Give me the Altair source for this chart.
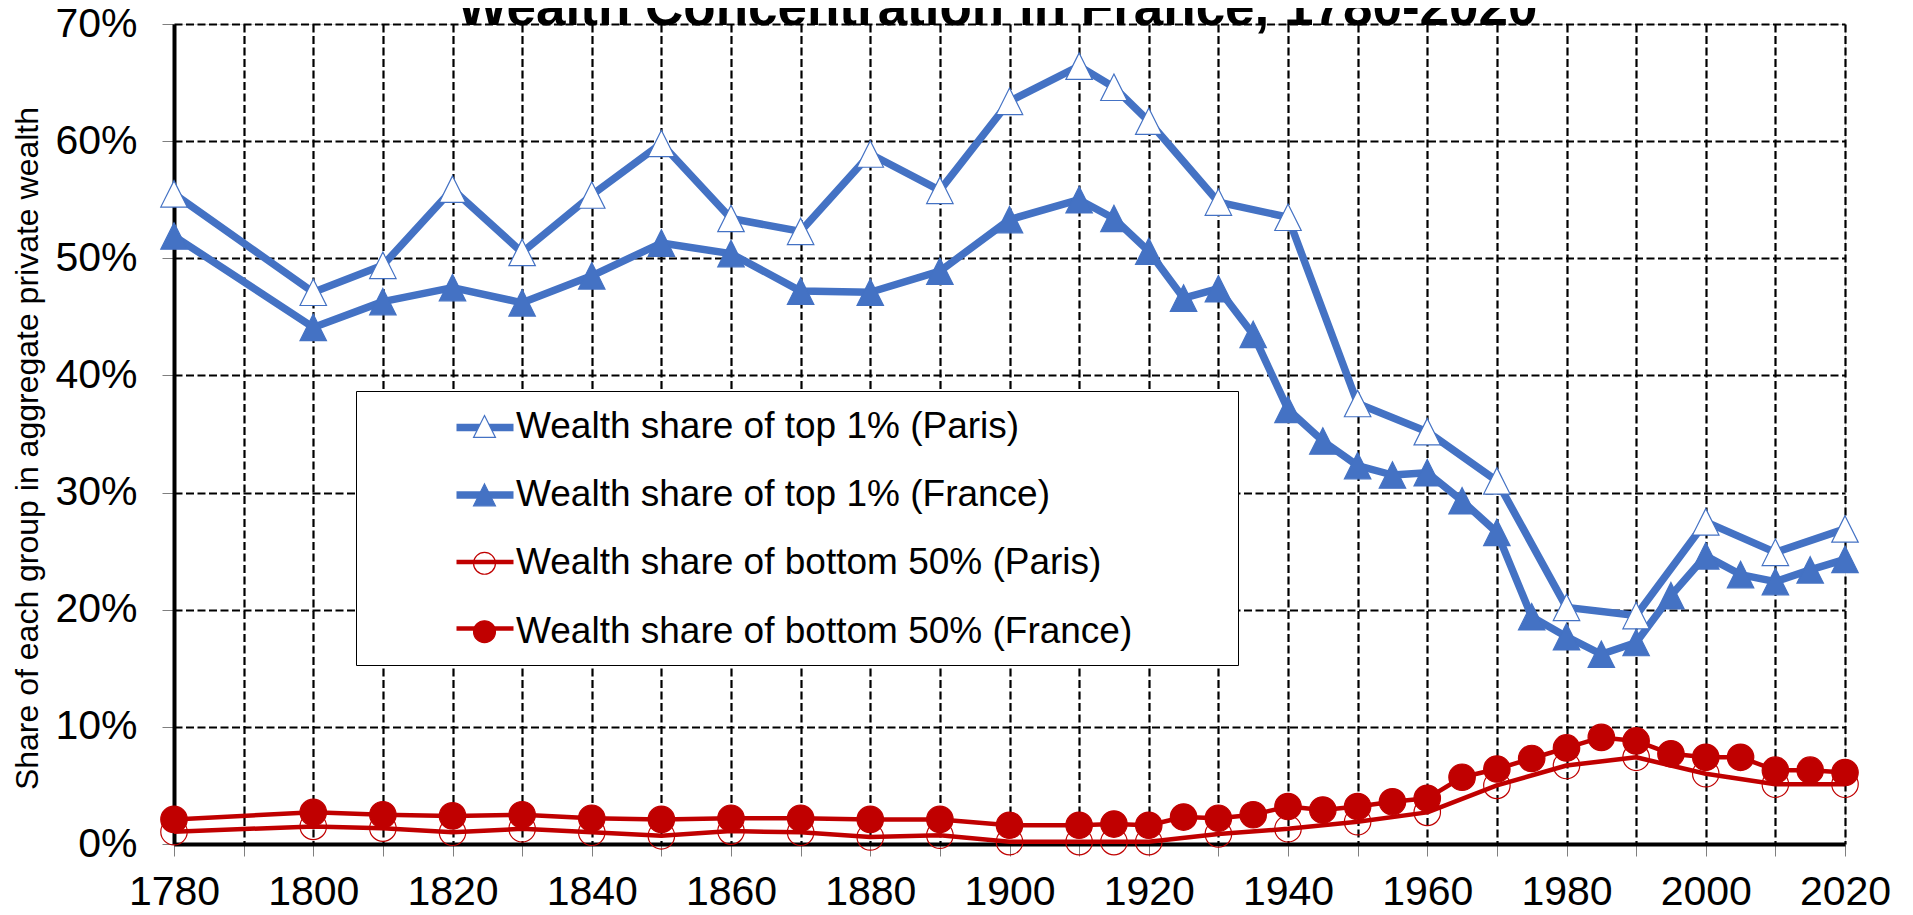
import altair as alt
import pandas as pd

FONT = "Liberation Sans, Arial, Helvetica, sans-serif"
BLUE = "#4472C4"
RED = "#C00000"

series_names = [
    "Wealth share of top 1% (Paris)",
    "Wealth share of top 1% (France)",
    "Wealth share of bottom 50% (Paris)",
    "Wealth share of bottom 50% (France)",
]

paris_years = [1780, 1800, 1810, 1820, 1830, 1840, 1850, 1860, 1870, 1880, 1890,
               1900, 1910, 1915, 1920, 1930, 1940, 1950, 1960, 1970, 1980, 1990,
               2000, 2010, 2020]
france_years = [1780, 1800, 1810, 1820, 1830, 1840, 1850, 1860, 1870, 1880, 1890,
                1900, 1910, 1915, 1920, 1925, 1930, 1935, 1940, 1945, 1950, 1955,
                1960, 1965, 1970, 1975, 1980, 1985, 1990, 1995, 2000, 2005, 2010,
                2015, 2020]

top1_paris = [55.5, 47.1, 49.4, 55.9, 50.5, 55.4, 59.8, 53.4, 52.3, 58.9, 55.8,
              63.4, 66.4, 64.6, 61.7, 54.8, 53.5, 37.6, 35.2, 31.0, 20.2, 19.5,
              27.5, 24.9, 26.9]
top1_france = [51.9, 44.1, 46.3, 47.5, 46.2, 48.5, 51.3, 50.4, 47.2, 47.1, 48.9,
               53.3, 55.0, 53.4, 50.6, 46.6, 47.4, 43.5, 37.1, 34.4, 32.3, 31.5,
               31.7, 29.3, 26.6, 19.4, 17.7, 16.2, 17.2, 21.2, 24.6, 23.0, 22.4,
               23.4, 24.3]
bottom50_paris = [1.05, 1.5, 1.35, 1.0, 1.3, 1.0, 0.7, 1.1, 1.0, 0.6, 0.75,
                  0.2, 0.2, 0.2, 0.2, 0.85, 1.3, 1.9, 2.7, 5.0, 6.7, 7.4,
                  6.0, 5.1, 5.1]
bottom50_france = [2.1, 2.7, 2.5, 2.4, 2.5, 2.2, 2.1, 2.2, 2.2, 2.1, 2.1,
                   1.6, 1.6, 1.7, 1.6, 2.3, 2.2, 2.5, 3.2, 2.9, 3.2, 3.6,
                   3.9, 5.7, 6.4, 7.3, 8.2, 9.1, 8.8, 7.7, 7.4, 7.4, 6.3,
                   6.3, 6.1]

x_ticks = list(range(1780, 2021, 10))
y_ticks = [0, 10, 20, 30, 40, 50, 60, 70]

# build long table
rows = []
for name, yrs, vals in [
    (series_names[0], paris_years, top1_paris),
    (series_names[1], france_years, top1_france),
    (series_names[2], paris_years, bottom50_paris),
    (series_names[3], france_years, bottom50_france),
]:
    for yr, v in zip(yrs, vals):
        rows.append({"year": yr, "value": v, "marker": name, "line_key": name + " "})
df = pd.DataFrame(rows)
line_keys = [n + " " for n in series_names]

TRI = "M0,-1L1,1L-1,1Z"
CIRC = "M1,0A1,1,0,1,1,-1,0A1,1,0,1,1,1,0Z"

x_enc = alt.X(
    "year:Q",
    scale=alt.Scale(domain=[1780, 2020], nice=False, zero=False),
    axis=alt.Axis(
        title=None, values=x_ticks, format="d",
        labelExpr="datum.value % 20 == 0 ? datum.label : ''",
        labelFontSize=41, labelFont=FONT, labelColor="black", labelPadding=16,
        labelFlush=False, labelOverlap=False,
        tickSize=12, tickColor="#7f7f7f", tickWidth=1,
        domainColor="black", domainWidth=4,
        grid=True, gridColor="black", gridDash=[8, 3.5], gridWidth=2.2,
    ),
)
y_enc = alt.Y(
    "value:Q",
    scale=alt.Scale(domain=[0, 70], nice=False, zero=True),
    axis=alt.Axis(
        title="Share of each group in aggregate private wealth",
        titleFontSize=32, titleFont=FONT, titleFontWeight="normal", titleColor="black",
        titlePadding=10, titleY=424,
        values=y_ticks, labelExpr="datum.value + '%'",
        labelFontSize=41, labelFont=FONT, labelColor="black", labelPadding=25,
        labelFlush=False, labelOverlap=False,
        tickSize=12, tickColor="#7f7f7f", tickWidth=1,
        domainColor="black", domainWidth=4,
        grid=True, gridColor="black", gridDash=[8, 3.5], gridWidth=2.2,
    ),
)

# legend drawing the box and the line samples (its labels are empty spacers)
leg_lines = alt.Legend(
    title=None, orient="none", legendX=182, legendY=367,
    symbolType="stroke", symbolSize=3249, padding=4, rowPadding=2.5,
    symbolOffset=92.5, labelOffset=716, labelFontSize=64, labelFont=FONT,
    labelExpr="''",
    labelLimit=3000, strokeColor="black", fillColor="white",
)
# legend drawing the markers and the visible labels
leg_points = alt.Legend(
    title=None, orient="none", legendX=183, legendY=368,
    symbolSize=480, symbolStrokeWidth=1.2, padding=16, rowPadding=30.4,
    symbolOffset=93, labelOffset=13, labelFontSize=37, labelFont=FONT,
    labelColor="black", labelLimit=3000,
)

lines = alt.Chart(df).mark_line(strokeJoin="round").encode(
    x=x_enc,
    y=y_enc,
    color=alt.Color("line_key:N", scale=alt.Scale(domain=line_keys, range=[BLUE, BLUE, RED, RED]),
                    legend=leg_lines),
    strokeWidth=alt.StrokeWidth("line_key:N",
                                scale=alt.Scale(type="ordinal", domain=line_keys, range=[7.5, 7.5, 4.5, 4.5]),
                                legend=leg_lines),
)

points = alt.Chart(df).mark_point(filled=True, opacity=1, size=700, strokeWidth=1.2).encode(
    x=x_enc,
    y=y_enc,
    shape=alt.Shape("marker:N", scale=alt.Scale(domain=series_names, range=[TRI, TRI, CIRC, CIRC]),
                    legend=leg_points),
    fill=alt.Fill("marker:N", scale=alt.Scale(domain=series_names, range=["white", BLUE, "transparent", RED]),
                  legend=leg_points),
    stroke=alt.Stroke("marker:N", scale=alt.Scale(domain=series_names, range=[BLUE, BLUE, RED, RED]),
                      legend=leg_points),
)

chart = alt.layer(lines, points).properties(
    width=1671,
    height=820,
    padding={"left": 166, "top": 16, "right": 50, "bottom": 63},
    autosize=alt.AutoSizeParams(type="none"),
    title=alt.Title("Wealth Concentration in France, 1780-2020", fontSize=53, fontWeight="bold",
                    font=FONT, color="black", anchor="middle", dx=-12, offset=-33),
).configure_view(
    stroke="black", strokeWidth=4,
).configure_legend(
    strokeWidth=2,
).configure(background="white")

chart.save("out.html", embed_options={"renderer": "svg", "actions": False})
